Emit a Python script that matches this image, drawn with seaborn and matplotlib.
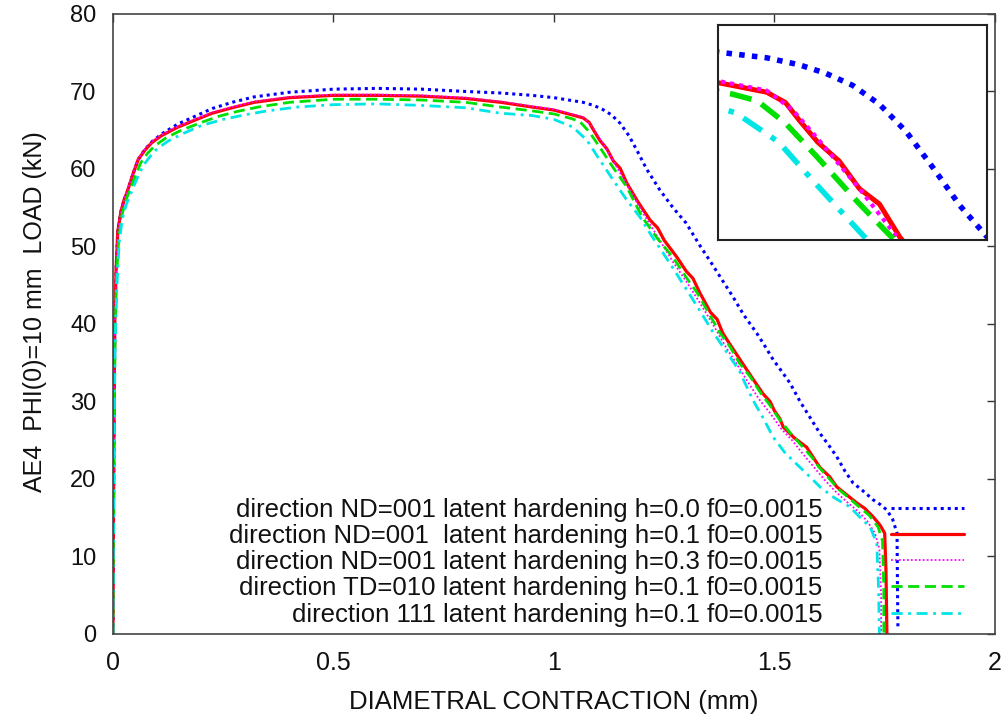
import matplotlib
matplotlib.use("Agg")
import matplotlib.pyplot as plt
import seaborn as sns

# --- data (diametral contraction mm, load kN) ---
x_h00 = [0, 0.002, 0.004, 0.007, 0.011, 0.018, 0.025, 0.032, 0.045, 0.057, 0.072, 0.088,
         0.11, 0.147, 0.19, 0.225, 0.27, 0.32, 0.4, 0.5, 0.6, 0.7, 0.8, 0.88, 0.95, 1.0,
         1.066, 1.09, 1.11, 1.13, 1.15, 1.17, 1.19, 1.21, 1.24, 1.27, 1.30, 1.33, 1.36, 1.38,
         1.406, 1.43, 1.46, 1.48, 1.497, 1.515, 1.535, 1.558, 1.58, 1.603, 1.62, 1.641,
         1.66, 1.678, 1.70, 1.724, 1.74, 1.755, 1.768, 1.778, 1.779, 1.78]
y_h00 = [0, 25, 40, 47, 52, 54.5, 56, 57, 59.3, 61.2, 62.5, 63.5,
         64.5, 65.8, 66.9, 67.8, 68.6, 69.3, 69.9, 70.3, 70.4, 70.3, 70.0, 69.8, 69.5, 69.2,
         68.6, 68.2, 67.7, 67.0, 65.9, 64.3, 62.2, 60.0, 57.3, 55.0, 53.0, 50.2, 47.6, 45.8,
         43.5, 41.2, 38.8, 37.0, 35.4, 34.0, 32.4, 30.0, 28.0, 25.9, 24.6, 22.9,
         21.0, 19.5, 18.5, 17.3, 16.7, 16.0, 14.8, 13.0, 6.0, 0.8]

x_h01 = [0, 0.002, 0.004, 0.007, 0.011, 0.018, 0.025, 0.032, 0.045, 0.057, 0.072, 0.088,
         0.11, 0.147, 0.19, 0.225, 0.27, 0.32, 0.4, 0.5, 0.6, 0.7, 0.8, 0.88, 0.95, 1.0,
         1.04, 1.066, 1.08, 1.09, 1.104, 1.12, 1.135, 1.15, 1.165, 1.19, 1.218, 1.235, 1.25,
         1.279, 1.30, 1.315, 1.331, 1.355, 1.37, 1.383, 1.40, 1.422, 1.45, 1.474, 1.49,
         1.50, 1.512, 1.52, 1.545, 1.573, 1.59, 1.603, 1.625, 1.641, 1.665, 1.687, 1.705,
         1.724, 1.74, 1.75, 1.753, 1.755]
y_h01 = [0, 25, 40, 47, 52, 54.5, 56, 57, 59.3, 61.2, 62.4, 63.4,
         64.3, 65.4, 66.4, 67.2, 67.9, 68.6, 69.2, 69.5, 69.5, 69.4, 69.1, 68.6, 68.0, 67.6,
         67.0, 66.6, 66.0, 65.0, 63.7, 62.6, 61.0, 60.1, 58.2, 55.8, 53.4, 52.4, 50.8,
         48.6, 46.8, 45.9, 44.0, 41.5, 40.6, 38.8, 37.3, 35.4, 33.0, 31.0, 30.0,
         28.8, 27.8, 26.7, 25.3, 24.1, 22.6, 21.5, 20.3, 19.0, 17.9, 16.9, 16.2,
         15.1, 14.0, 13.0, 8.0, 0]

x_h03 = [0, 0.002, 0.004, 0.007, 0.011, 0.018, 0.025, 0.032, 0.045, 0.057, 0.072, 0.088,
         0.11, 0.147, 0.19, 0.225, 0.27, 0.32, 0.4, 0.5, 0.6, 0.7, 0.8, 0.88, 0.95, 1.0,
         1.04, 1.066, 1.085, 1.104, 1.135, 1.165, 1.2, 1.24, 1.27, 1.30, 1.33, 1.36, 1.39,
         1.415, 1.44, 1.465, 1.49, 1.515, 1.54, 1.565, 1.59, 1.615, 1.64, 1.665, 1.69,
         1.71, 1.728, 1.738, 1.742, 1.742]
y_h03 = [0, 25, 40, 47, 52, 54.6, 56.1, 57.1, 59.4, 61.3, 62.5, 63.5,
         64.4, 65.5, 66.5, 67.3, 68.0, 68.7, 69.3, 69.6, 69.6, 69.5, 69.2, 68.7, 68.1, 67.7,
         67.1, 66.7, 65.6, 63.9, 61.0, 58.0, 54.5, 50.8, 48.0, 45.5, 42.8, 40.0, 37.0,
         34.8, 32.5, 30.3, 28.5, 26.5, 25.0, 23.2, 21.5, 19.8, 18.3, 17.0, 15.8,
         14.6, 13.0, 11.0, 5.0, 0]

x_td = [0, 0.002, 0.005, 0.008, 0.013, 0.02, 0.028, 0.036, 0.05, 0.063, 0.078, 0.095,
        0.12, 0.155, 0.2, 0.24, 0.28, 0.33, 0.4, 0.5, 0.6, 0.7, 0.8, 0.878, 0.95, 1.0,
        1.04, 1.059, 1.08, 1.104, 1.134, 1.165, 1.2, 1.235, 1.27, 1.30, 1.325, 1.35, 1.375,
        1.40, 1.42, 1.445, 1.47, 1.49, 1.51, 1.535, 1.56, 1.585, 1.60, 1.625, 1.645,
        1.67, 1.69, 1.715, 1.735, 1.745, 1.748, 1.748]
y_td = [0, 24, 39, 46, 51, 54, 55.7, 57, 59, 60.8, 62.0, 63.0,
        64.0, 65.0, 66.0, 66.8, 67.4, 68.0, 68.6, 69.0, 69.0, 68.9, 68.6, 68.0, 67.5, 67.1,
        66.5, 66.1, 64.8, 62.8, 60.2, 57.7, 53.8, 51.0, 48.6, 46.0, 44.0, 41.5, 39.0,
        37.0, 35.0, 33.2, 31.0, 29.5, 27.8, 26.0, 24.4, 22.8, 21.6, 20.0, 18.7,
        17.5, 16.5, 15.3, 13.8, 12.0, 6.0, 0]

x_111 = [0, 0.002, 0.005, 0.009, 0.014, 0.021, 0.03, 0.04, 0.054, 0.068, 0.084, 0.10,
         0.125, 0.16, 0.2, 0.25, 0.3, 0.35, 0.42, 0.5, 0.6, 0.7, 0.8, 0.878, 0.95, 1.0,
         1.043, 1.075, 1.10, 1.134, 1.165, 1.195, 1.22, 1.247, 1.27, 1.30, 1.33, 1.36, 1.39,
         1.42, 1.451, 1.475, 1.497, 1.525, 1.558, 1.58, 1.603, 1.635, 1.671, 1.695, 1.717,
         1.732, 1.736, 1.738]
y_111 = [0, 23, 38, 45, 50.5, 53.5, 55.4, 56.8, 58.7, 60.4, 61.6, 62.6,
         63.6, 64.6, 65.6, 66.4, 67.0, 67.5, 68.0, 68.3, 68.4, 68.2, 67.9, 67.2, 66.9, 66.4,
         65.4, 63.7, 61.5, 58.6, 56.0, 53.8, 51.5, 49.2, 47.2, 44.5, 41.8, 39.0, 36.5,
         34.0, 30.2, 27.8, 25.4, 23.3, 21.5, 20.3, 19.0, 17.6, 16.4, 15.0, 13.8,
         11.7, 6.0, 0]

labels = ["direction ND=001 latent hardening h=0.0 f0=0.0015",
          "direction ND=001  latent hardening h=0.1 f0=0.0015",
          "direction ND=001 latent hardening h=0.3 f0=0.0015",
          "direction TD=010 latent hardening h=0.1 f0=0.0015",
          "direction 111 latent hardening h=0.1 f0=0.0015"]
x_ticks = [0, 0.5, 1, 1.5, 2]
x_ticklabels = ["0", "0.5", "1", "1.5", "2"]
y_ticks = [0, 10, 20, 30, 40, 50, 60, 70, 80]

series = [(x_h00, y_h00), (x_h01, y_h01), (x_h03, y_h03), (x_td, y_td), (x_111, y_111)]
colors = ["#0000ff", "#ff0000", "#ff00ff", "#00e000", "#00e5e5"]
styles = [(0, (1, 1.3)), "-", (0, (1, 1.2)), (0, (4, 2)), (0, (4, 2, 1, 2))]
widths = [2.2, 2.3, 1.3, 2.0, 2.0]

sns.set_theme(style="white")
plt.rcParams["font.family"] = ["Liberation Sans", "DejaVu Sans"]

fig = plt.figure(figsize=(10.06, 7.17), dpi=100)
ax = fig.add_axes([0.1123, 0.1158, 0.8767, 0.8647])

for (xs, ys), lab, c, ls, lw in zip(series, labels, colors, styles, widths):
    sns.lineplot(x=xs, y=ys, ax=ax, sort=False, estimator=None, color=c,
                 linestyle=ls, linewidth=lw, label=lab)

ax.set_xlim(0, 2)
ax.set_ylim(0, 80)
ax.set_xticks(x_ticks)
ax.set_xticklabels(x_ticklabels)
ax.set_yticks(y_ticks)
ax.tick_params(direction="in", length=6, width=1, color="#333333",
               top=True, right=True, labelcolor="#111111")
ax.tick_params(axis="x", pad=12, labelsize=18)
ax.tick_params(axis="y", pad=12, labelsize=17)
for sp in ax.spines.values():
    sp.set_color("#444444")
    sp.set_linewidth(1.2)

ax.set_xlabel("DIAMETRAL CONTRACTION (mm)", fontsize=18.5, labelpad=11, color="#111111")
ax.set_ylabel("AE4  PHI(0)=10 mm  LOAD (kN)", fontsize=18, color="#111111")
ax.yaxis.set_label_coords(-0.075, 0.52)

leg = ax.legend(loc="lower right", bbox_to_anchor=(0.965, 0.012), frameon=False,
                markerfirst=False, fontsize=18.5, handlelength=2.85, handletextpad=2.65,
                labelspacing=0.08, borderaxespad=0, borderpad=0)
for t in leg.get_texts():
    t.set_color("#111111")

# zoomed inset around the knee of the curves
ax_in = fig.add_axes([0.714, 0.665, 0.267, 0.300])
in_widths = [4.0, 3.6, 3.0, 4.0, 4.0]
for (xs, ys), c, ls, lw in zip(series, colors, styles, in_widths):
    sns.lineplot(x=xs, y=ys, ax=ax_in, sort=False, estimator=None, color=c,
                 linestyle=ls, linewidth=lw)
ax_in.set_xlim(1.03, 1.23)
ax_in.set_ylim(58, 70.5)
ax_in.set_xticks([])
ax_in.set_yticks([])
ax_in.set_xlabel("")
ax_in.set_ylabel("")
for sp in ax_in.spines.values():
    sp.set_color("#222222")
    sp.set_linewidth(1.5)

fig.savefig("out.png", dpi=100, facecolor="white")
